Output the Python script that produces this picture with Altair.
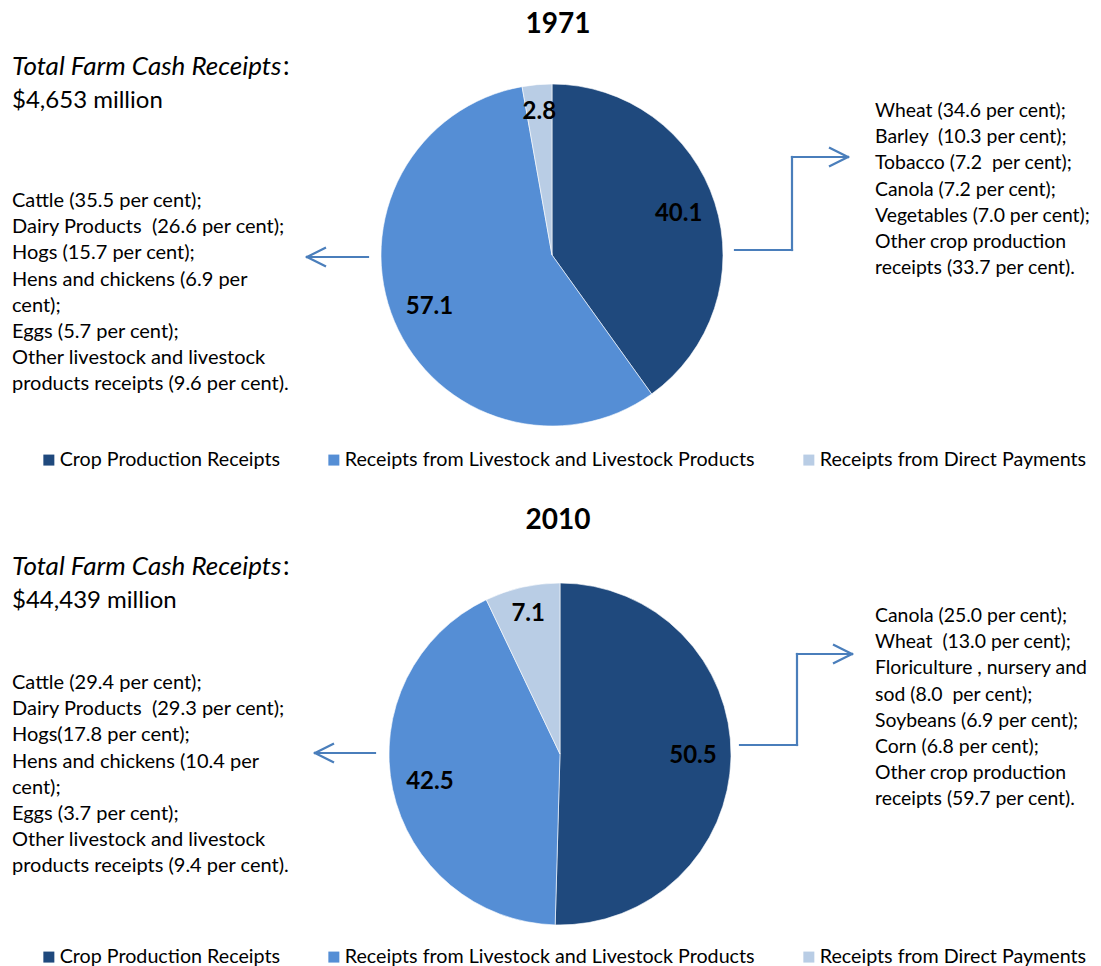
import altair as alt
import pandas as pd

# ---------------- data ----------------
categories = [
    "Crop Production Receipts",
    "Receipts from Livestock and Livestock Products",
    "Receipts from Direct Payments",
]
shares_1971 = [40.1, 57.1, 2.8]
shares_2010 = [50.5, 42.5, 7.1]
colors = ["#1F497D", "#558ED5", "#B9CDE5"]

years = ["1971", "2010"]
totals = ["$4,653 million", "$44,439 million"]

NB = "\u00a0"
livestock_1971 = [
    "Cattle (35.5 per cent);",
    f"Dairy Products {NB}(26.6 per cent);",
    "Hogs (15.7 per cent);",
    "Hens and chickens (6.9 per",
    "cent);",
    "Eggs (5.7 per cent);",
    "Other livestock and livestock",
    "products receipts (9.6 per cent).",
]
crops_1971 = [
    "Wheat (34.6 per cent);",
    f"Barley {NB}(10.3 per cent);",
    f"Tobacco (7.2 {NB}per cent);",
    "Canola (7.2 per cent);",
    "Vegetables (7.0 per cent);",
    "Other crop production",
    "receipts (33.7 per cent).",
]
livestock_2010 = [
    "Cattle (29.4 per cent);",
    f"Dairy Products {NB}(29.3 per cent);",
    "Hogs(17.8 per cent);",
    "Hens and chickens (10.4 per",
    "cent);",
    "Eggs (3.7 per cent);",
    "Other livestock and livestock",
    "products receipts (9.4 per cent).",
]
crops_2010 = [
    "Canola (25.0 per cent);",
    f"Wheat {NB}(13.0 per cent);",
    "Floriculture , nursery and",
    f"sod (8.0 {NB}per cent);",
    "Soybeans (6.9 per cent);",
    "Corn (6.8 per cent);",
    "Other crop production",
    "receipts (59.7 per cent).",
]

FONT = "Lato"
ARROW = "#4A7EBB"
LINE_H = 26.2


def frame(shares):
    return pd.DataFrame({
        "category": categories,
        "share": shares,
        "rank": list(range(len(categories))),
    })


dummy = pd.DataFrame({"d": [0]})


def pie(shares, cx, cy, legend_y):
    base = alt.Chart(frame(shares))
    arc = base.mark_arc(outerRadius=171, stroke="white", strokeWidth=0.6).encode(
        theta=alt.Theta("share:Q", stack=True),
        order=alt.Order("rank:Q"),
        color=alt.Color(
            "category:N",
            scale=alt.Scale(domain=categories, range=colors),
            legend=alt.Legend(
                orient="none", legendX=31, legendY=legend_y, direction="horizontal",
                title=None, symbolType="square", symbolSize=121, symbolStrokeWidth=0,
                labelFont=FONT, labelFontSize=19.7, labelColor="#000000", labelLimit=0,
                columnPadding=44, labelOffset=1, padding=0,
            ),
        ),
        x=alt.value(cx), y=alt.value(cy),
    )
    labbase = base.transform_window(
        cum="sum(share)", sort=[alt.SortField("rank")]
    ).transform_calculate(mid="datum.cum - datum.share / 2")

    def lab(flt, r):
        return labbase.transform_filter(flt).mark_text(
            font=FONT, fontSize=24, fontWeight="bold", color="black",
            align="center", baseline="middle", radius=r,
        ).encode(
            theta=alt.Theta("mid:Q", stack=None),
            text=alt.Text("share:Q", format=".1f"),
            x=alt.value(cx), y=alt.value(cy),
        )

    return alt.layer(arc, lab("datum.share >= 10", 133), lab("datum.share < 10", 144))


def text(lines, x, y, size=20, weight="normal", style="normal", align="left", baseline="alphabetic"):
    return alt.Chart(dummy).mark_text(
        font=FONT, fontSize=size, fontWeight=weight, fontStyle=style, align=align,
        baseline=baseline, lineHeight=LINE_H, color="black",
    ).encode(x=alt.value(x), y=alt.value(y), text=alt.value(lines))


def seg(x1, y1, x2, y2):
    return alt.Chart(dummy).mark_rule(color=ARROW, strokeWidth=2.2, strokeCap="square").encode(
        x=alt.value(x1), y=alt.value(y1), x2=alt.value(x2), y2=alt.value(y2)
    )


def head_left(x, y):
    return [seg(x, y, x + 18, y - 9), seg(x, y, x + 18, y + 9)]


def head_right(x, y):
    return [seg(x, y, x - 18, y - 9), seg(x, y, x - 18, y + 9)]


layers = []
pies = alt.layer(
    pie(shares_1971, 544, 247, 442),
    pie(shares_2010, 552, 746, 939),
).resolve_scale(theta="independent", color="independent")

# titles
layers.append(text(years[0], 550, 25, size=28, weight="bold", align="center"))
layers.append(text(years[1], 550, 521, size=28, weight="bold", align="center"))

# total receipts
for ty, tot in [(67, totals[0]), (567, totals[1])]:
    layers.append(text("Total Farm Cash Receipts", 4, ty, size=26, style="italic"))
    layers.append(text(":", 275, ty, size=26))
    layers.append(text(tot, 4, ty + 33, size=24))

# lists
layers.append(text(livestock_1971, 4, 199))
layers.append(text(crops_1971, 867, 109, size=19.4))
layers.append(text(livestock_2010, 4, 681))
layers.append(text(crops_2010, 867, 614, size=19.4))

# arrows 1971
layers += [seg(360, 249, 299, 249)] + head_left(299, 249)
layers += [seg(727, 242, 784, 242), seg(784, 242, 784, 149), seg(784, 149, 840, 149)] + head_right(840, 149)
# arrows 2010
layers += [seg(367, 745, 307, 745)] + head_left(307, 745)
layers += [seg(732, 737, 789, 737), seg(789, 737, 789, 646), seg(789, 646, 844, 646)] + head_right(844, 646)

chart = alt.layer(pies, *layers).properties(
    width=1085, height=958, padding=0,
    autosize=alt.AutoSizeParams(type="none"),
).configure_view(stroke=None)

chart.save("out.html", embed_options={"renderer": "svg", "actions": False})
